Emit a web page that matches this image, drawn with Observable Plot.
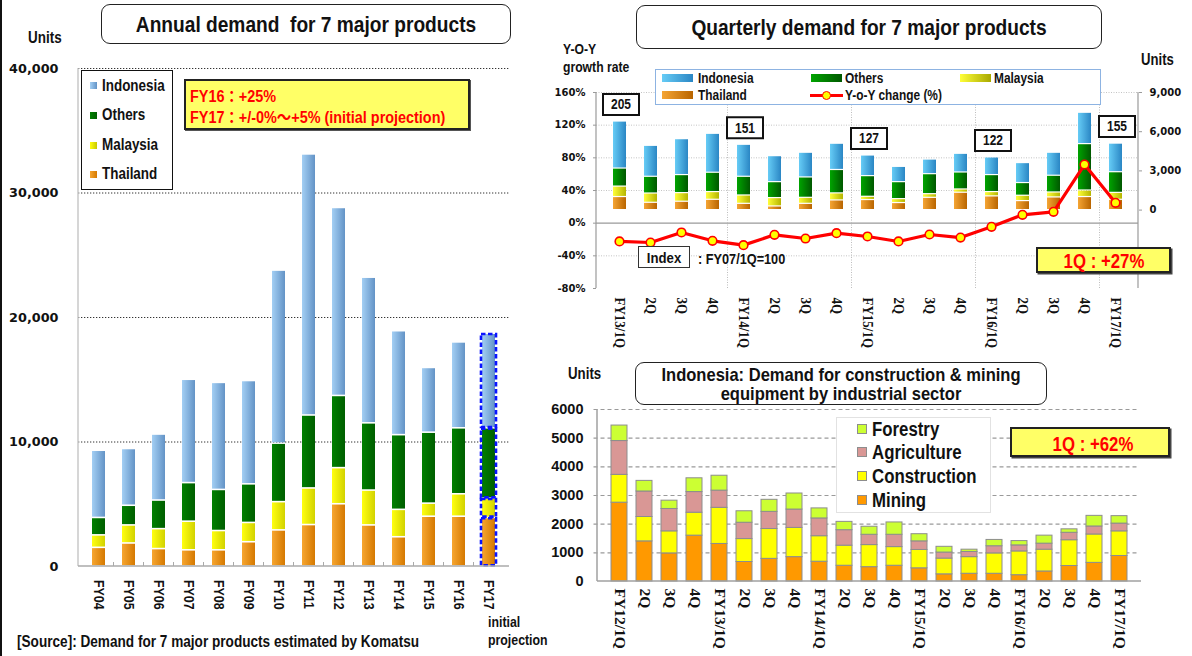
<!DOCTYPE html>
<html><head><meta charset="utf-8">
<script src="https://cdn.jsdelivr.net/npm/d3@7"></script>
<script src="https://cdn.jsdelivr.net/npm/@observablehq/plot@0.6"></script>
<style>
html,body{margin:0;padding:0;}
body{width:1192px;height:656px;position:relative;overflow:hidden;background:#fff;color:#111;
 font-family:"Liberation Sans Narrow","Arial Narrow","Liberation Sans",Arial,"Noto Sans CJK JP",sans-serif;font-weight:bold;}
.layer{position:absolute;}
.layer svg{display:block;max-width:none;overflow:visible;background:transparent;}
.t{position:absolute;white-space:pre;line-height:1;}
.box{position:absolute;box-sizing:border-box;background:#fff;}
.sw{position:absolute;box-sizing:border-box;}
</style></head><body>
<script>
// ---------------- DATA ----------------
// Annual demand (units)
const years = ["FY04","FY05","FY06","FY07","FY08","FY09","FY10","FY11","FY12","FY13","FY14","FY15","FY16","FY17"];
const annualThailand  = [1500,1850,1400,1300,1300,1950,2900,3330,5000,3300,2350,4000,4000,3900];
const annualMalaysia  = [1000,1450,1600,2300,1550,1550,2270,2940,2900,2800,2200,1050,1800,1550];
const annualOthers    = [1400,1580,2300,3100,3300,3100,4700,5860,5800,5400,6000,5700,5300,5650];
const annualIndonesia = [5400,4560,5300,8300,8600,8300,13900,20970,15100,11700,8350,5200,6900,7600];
const annualTicks = [0,10000,20000,30000,40000];
const projectionYear = "FY17";

// Quarterly demand (units) and Y-o-Y change (%)
const quarterKeys   = ["FY13/1Q","FY13/2Q","FY13/3Q","FY13/4Q","FY14/1Q","FY14/2Q","FY14/3Q","FY14/4Q","FY15/1Q","FY15/2Q","FY15/3Q","FY15/4Q","FY16/1Q","FY16/2Q","FY16/3Q","FY16/4Q","FY17/1Q"];
const quarterLabels = ["FY13/1Q","2Q","3Q","4Q","FY14/1Q","2Q","3Q","4Q","FY15/1Q","2Q","3Q","4Q","FY16/1Q","2Q","3Q","4Q","FY17/1Q"];
const qThailand  = [1000,560,640,790,480,280,480,740,770,540,940,1330,1050,690,970,1000,790];
const qMalaysia  = [800,710,660,590,640,640,460,540,250,300,280,250,330,410,380,500,530];
const qOthers    = [1380,1280,1380,1480,1430,1220,1560,1790,1580,1300,1530,1300,1300,970,1280,3550,1580];
const qIndonesia = [3600,2370,2750,2980,2450,1990,1890,2010,1580,1170,1120,1430,1350,1530,1760,2400,2190];
const qYoY       = [-22.4,-23.7,-11.4,-21.6,-26.9,-14.3,-18.8,-12.2,-16.3,-22.4,-13.9,-17.6,-4.5,10.2,13.9,71.8,24.9];
const indexQuarters = ["FY13/1Q","FY14/1Q","FY15/1Q","FY16/1Q","FY17/1Q"];
const indexValues   = [205,151,127,122,155];
const pctTicks  = [-80,-40,0,40,80,120,160];
const unitTicks = [0,3000,6000,9000];

// Indonesia by industrial sector (units)
const iqKeys   = ["FY12/1Q","FY12/2Q","FY12/3Q","FY12/4Q","FY13/1Q","FY13/2Q","FY13/3Q","FY13/4Q","FY14/1Q","FY14/2Q","FY14/3Q","FY14/4Q","FY15/1Q","FY15/2Q","FY15/3Q","FY15/4Q","FY16/1Q","FY16/2Q","FY16/3Q","FY16/4Q","FY17/1Q"];
const iqLabels = ["FY12/1Q","2Q","3Q","4Q","FY13/1Q","2Q","3Q","4Q","FY14/1Q","2Q","3Q","4Q","FY15/1Q","2Q","3Q","4Q","FY16/1Q","2Q","3Q","4Q","FY17/1Q"];
const mining       = [2750,1400,980,1600,1310,680,790,850,690,550,500,550,460,250,270,270,220,350,540,650,890];
const construction = [970,850,770,800,1260,800,1040,1020,890,700,770,650,640,550,580,710,830,760,900,990,860];
const agriculture  = [1180,890,780,720,600,570,600,640,620,540,360,430,300,210,180,250,210,210,260,280,270];
const forestry     = [540,370,290,480,520,400,420,560,350,290,280,430,250,200,80,220,150,280,120,370,260];
const sectorTicks = [0,1000,2000,3000,4000,5000,6000];

// ---------------- HELPERS ----------------
const SANS = '"Liberation Sans",Arial,sans-serif';
const SERIF = '"Liberation Serif","Times New Roman",serif';
const VERD = '"DejaVu Sans",Verdana,sans-serif';
const SVGNS = "http://www.w3.org/2000/svg";
const comma = d3.format(",");

function place(html){ document.body.insertAdjacentHTML("beforeend", html); }
// text: x = left edge (or centre if c), yc = vertical centre, sx = horizontal condensing
function txt(x, yc, s, size, sx=1, c=false, extra=""){
  const tr = c ? `translate(-50%,-50%) scaleX(${sx})` : `translateY(-50%) scaleX(${sx})`;
  const org = c ? "50% 50%" : "0 50%";
  place(`<div class="t" style="left:${x}px;top:${yc}px;font-size:${size}px;transform:${tr};transform-origin:${org};${extra}">${s}</div>`);
}
function mount(svg, left, top){ const d=document.createElement("div"); d.className="layer"; d.style.left=left+"px"; d.style.top=top+"px"; d.appendChild(svg); document.body.appendChild(d); }
function addDefs(svg, html){ const tmp=document.createElementNS(SVGNS,"svg"); tmp.innerHTML="<defs>"+html+"</defs>"; svg.insertBefore(tmp.firstElementChild, svg.firstChild); }
function grad(id, a, b){ return `<linearGradient id="${id}" x1="0" x2="1" y1="0" y2="0"><stop offset="0" stop-color="${a}"/><stop offset="1" stop-color="${b}"/></linearGradient>`; }
function line(g, x1,y1,x2,y2, stroke, w=1, dash=null){ const l=document.createElementNS(SVGNS,"line"); l.setAttribute("x1",x1);l.setAttribute("y1",y1);l.setAttribute("x2",x2);l.setAttribute("y2",y2);l.setAttribute("stroke",stroke);l.setAttribute("stroke-width",w); if(dash) l.setAttribute("stroke-dasharray",dash); g.appendChild(l); }
function bandBoundary(x, key){ const bw = x.bandwidth ? x.bandwidth() : 0; const step = x.step ? x.step() : bw; return x(key) - (step - bw)/2; }
// condense rotated x tick labels along their reading direction
function condenseX(svg, s){ svg.querySelectorAll('g[aria-label="x-axis tick label"] text').forEach(t=>{ const tr=t.getAttribute("transform")||""; t.setAttribute("transform", tr+` scale(${s},1)`); }); }

// ---------------- LEFT: annual ----------------
const seriesOrder = ["Thailand","Malaysia","Others","Indonesia"];
const annualSeries = {Thailand: annualThailand, Malaysia: annualMalaysia, Others: annualOthers, Indonesia: annualIndonesia};
const annual = [];
years.forEach((y,i)=>seriesOrder.forEach(s=>annual.push({year:y, series:s, value:annualSeries[s][i]})));

const leftFrame = (index, scales, values, dims) => {
  const g = document.createElementNS(SVGNS,"g");
  const x = scales.x, y = scales.y;
  const x0 = dims.marginLeft, x1 = dims.width - dims.marginRight, y0 = y(0);
  line(g, x0, dims.marginTop, x0, y0, "#c8c8c8", 1.5);
  line(g, x0, y0, x1, y0, "#aaaaaa", 1.5);
  years.slice(1).forEach(k => { const bx = bandBoundary(x, k); line(g, bx, y0, bx, y0-4, "#aaaaaa", 1); });
  return g;
};

const leftPlot = Plot.plot({
  width: 540, height: 620, marginLeft: 78, marginRight: 31, marginTop: 68, marginBottom: 54,
  style: {fontFamily: SANS, fontWeight: "bold", color: "#111", background: "transparent", overflow: "visible"},
  x: {domain: years, paddingInner: 0.55, paddingOuter: 0.275, label: null},
  y: {domain: [0, 40000], label: null},
  color: {domain: seriesOrder, range: ["url(#gL0)","url(#gL1)","url(#gL2)","url(#gL3)"]},
  marks: [
    Plot.ruleY(annualTicks.filter(v => v > 0), {stroke: "#333", strokeWidth: 1, strokeDasharray: "1.3,1.7"}),
    Plot.barY(annual, Plot.stackY({x: "year", y: "value", fill: "series", order: seriesOrder, insetTop: 0.8, insetBottom: 0.8})),
    Plot.barY(annual.filter(d => d.year === projectionYear), Plot.stackY({x: "year", y: "value", z: "series", order: seriesOrder, fill: "none", stroke: "#0a14ff", strokeWidth: 2.6, strokeDasharray: "4.5,2.5", inset: -1, insetTop: 0.8, insetBottom: 0.8})),
    leftFrame,
    Plot.axisY({ticks: annualTicks, tickFormat: comma, tickSize: 0, tickPadding: 20, fontSize: 12.8, fontFamily: VERD, fontWeight: "bold", label: null}),
    Plot.axisX({tickRotate: 90, tickSize: 0, tickPadding: 13.5, fontSize: 15.5, label: null})
  ]
});
addDefs(leftPlot,
  grad("gL0","#f7a630","#d57900") + grad("gL1","#ffff10","#d2d200") +
  grad("gL2","#008000","#005e00") + grad("gL3","#a3cff4","#6393c6"));
condenseX(leftPlot, 0.8);
mount(leftPlot, 0, 0);

// ---------------- TOP RIGHT: quarterly ----------------
const qSeries = {Thailand: qThailand, Malaysia: qMalaysia, Others: qOthers, Indonesia: qIndonesia};
const quarterly = [];
quarterKeys.forEach((k,i)=>seriesOrder.forEach(s=>quarterly.push({key:k, series:s, value:qSeries[s][i]})));
const yoyData = quarterKeys.map((k,i)=>({key:k, yoy:qYoY[i]}));
const labelOf = Object.fromEntries(quarterKeys.map((k,i)=>[k, quarterLabels[i]]));
const indexData = indexQuarters.map((k,j)=>{ const i = quarterKeys.indexOf(k); return {key:k, index:indexValues[j], total: qThailand[i]+qMalaysia[i]+qOthers[i]+qIndonesia[i]}; });

const TR = {width: 642, height: 360, marginLeft: 46, marginRight: 54, marginTop: 92, marginBottom: 72};
const trX = {domain: quarterKeys, paddingInner: 0.59, paddingOuter: 0.295, label: null};
const trStyle = {fontFamily: SANS, fontWeight: "bold", color: "#111", background: "transparent", overflow: "visible"};

const trFrame = (index, scales, values, dims) => {
  const g = document.createElementNS(SVGNS,"g");
  const x = scales.x, y = scales.y;
  const x0 = dims.marginLeft, x1 = dims.width - dims.marginRight;
  const yt = y(160), yb = y(-80);
  quarterKeys.forEach((k,i)=>{ if (i>0 && quarterLabels[i].startsWith("FY")) { const bx = bandBoundary(x, k); line(g, bx, yt, bx, yb, "#bdbdbd", 1, "1,1.5"); } });
  line(g, x0, yt, x0, yb, "#9a9a9a", 1.2);
  line(g, x1, yt, x1, yb, "#9a9a9a", 1.2);
  return g;
};

const trGrid = Plot.plot({
  ...TR, style: trStyle, x: trX, y: {domain: [-80,160], label: null},
  marks: [
    Plot.ruleY(pctTicks.filter(v => v !== 0 && v !== -80), {stroke: "#c4c4c4", strokeWidth: 1, strokeDasharray: "1,1.5"}),
    Plot.ruleY([0], {stroke: "#9a9a9a", strokeWidth: 1.3}),
    trFrame,
    Plot.axisY({ticks: pctTicks, tickFormat: d => d + "%", tickSize: 3, tickPadding: 8, fontSize: 10, fontFamily: VERD, fontWeight: "bold", stroke: "#9a9a9a", label: null}),
    Plot.axisX({tickRotate: 90, tickSize: 0, tickPadding: 9, fontSize: 14, fontFamily: SERIF, fontWeight: "bold", tickFormat: k => labelOf[k], label: null})
  ]
});
condenseX(trGrid, 0.93);
mount(trGrid, 550, 0);

const boxSymbol = {draw(ctx){ ctx.moveTo(-18,-10.5); ctx.lineTo(18,-10.5); ctx.lineTo(18,10.5); ctx.lineTo(-18,10.5); ctx.closePath(); }};
const trBars = Plot.plot({
  ...TR, style: trStyle, x: {...trX, axis: null}, y: {domain: [-6000,9000], label: null},
  color: {domain: seriesOrder, range: ["url(#gR0)","url(#gR1)","url(#gR2)","url(#gR3)"]},
  marks: [
    Plot.barY(quarterly, Plot.stackY({x: "key", y: "value", fill: "series", order: seriesOrder, insetTop: 0.6, insetBottom: 0.6})),
    Plot.axisY({anchor: "right", ticks: unitTicks, tickFormat: comma, tickSize: 3, tickPadding: 8, fontSize: 10, fontFamily: VERD, fontWeight: "bold", stroke: "#9a9a9a", label: null}),
    Plot.dot(indexData, {x: "key", y: "total", dx: 1, dy: -17, symbol: boxSymbol, fill: "#fff", stroke: "#111", strokeWidth: 2}),
    Plot.text(indexData, {x: "key", y: "total", dx: 1, dy: -17, text: d => String(d.index), fontSize: 15, fontWeight: "bold", fill: "#111"})
  ]
});
addDefs(trBars,
  grad("gR0","#f5a534","#b96500") + grad("gR1","#ffff38","#b5b500") +
  grad("gR2","#00a400","#005800") + grad("gR3","#66ccf6","#2a86c4"));
trBars.querySelectorAll('g[aria-label="text"] text').forEach(t=>{ t.setAttribute("transform",(t.getAttribute("transform")||"")); t.setAttribute("textLength","20"); t.setAttribute("lengthAdjust","spacingAndGlyphs"); });
mount(trBars, 550, 0);

const trLine = Plot.plot({
  ...TR, style: trStyle, x: {...trX, axis: null}, y: {domain: [-80,160], axis: null},
  marks: [
    Plot.line(yoyData, {x: "key", y: "yoy", stroke: "#ff0000", strokeWidth: 3.2}),
    Plot.dot(yoyData, {x: "key", y: "yoy", r: 4.3, fill: "#ffff00", stroke: "#ff0000", strokeWidth: 1.6})
  ]
});
mount(trLine, 550, 0);

// ---------------- BOTTOM RIGHT: Indonesia by sector ----------------
const sectorOrder = ["Mining","Construction","Agriculture","Forestry"];
const sectorSeries = {Mining: mining, Construction: construction, Agriculture: agriculture, Forestry: forestry};
const sectorData = [];
iqKeys.forEach((k,i)=>sectorOrder.forEach(s=>sectorData.push({key:k, sector:s, value:sectorSeries[s][i]})));
const iqLabelOf = Object.fromEntries(iqKeys.map((k,i)=>[k, iqLabels[i]]));

const brFrame = (index, scales, values, dims) => {
  const g = document.createElementNS(SVGNS,"g");
  const y = scales.y;
  const x0 = dims.marginLeft, x1 = dims.width - dims.marginRight;
  line(g, x0, y(6000), x0, y(0), "#a0a0a0", 1.5);
  line(g, x0, y(0), x1, y(0), "#a0a0a0", 1.5);
  return g;
};
const brPlot = Plot.plot({
  width: 652, height: 276, marginLeft: 57, marginRight: 51, marginTop: 29, marginBottom: 75,
  style: {fontFamily: SANS, fontWeight: "bold", color: "#111", background: "transparent", overflow: "visible"},
  x: {domain: iqKeys, paddingInner: 0.355, paddingOuter: 0.1775, label: null},
  y: {domain: [0, 6000], label: null},
  color: {domain: sectorOrder, range: ["#ff9900","#ffff00","#d99795","#ccff33"]},
  marks: [
    Plot.ruleY(sectorTicks.filter(v => v > 0), {stroke: "#9a9a9a", strokeWidth: 1.1, strokeDasharray: "4,3", dx: -3.5}),
    Plot.barY(sectorData, Plot.stackY({x: "key", y: "value", fill: "sector", order: sectorOrder, stroke: "#8d8d8d", strokeWidth: 1})),
    brFrame,
    Plot.axisY({ticks: sectorTicks, tickFormat: d => String(d), tickSize: 0, tickPadding: 14, fontSize: 14.5, fontFamily: SANS, fontWeight: "bold", label: null}),
    Plot.axisX({tickRotate: 90, tickSize: 0, tickPadding: 7, fontSize: 15.5, fontFamily: SERIF, fontWeight: "bold", tickFormat: k => iqLabelOf[k], label: null})
  ]
});
mount(brPlot, 540, 380);

// ---------------- HTML annotations ----------------
place(`<div class="box" style="left:0;top:0;width:2px;height:656px;background:#111"></div>`);

// Left panel
place(`<div class="box" style="left:101px;top:4px;width:410px;height:40px;border:1.5px solid #222;border-radius:9px;"></div>`);
txt(306, 24.5, "Annual demand  for 7 major products", 22, 0.87, true);
txt(27.5, 38, "Units", 16, 0.84);
place(`<div class="box" style="left:81px;top:70px;width:91.5px;height:119.5px;border:1.5px solid #111;"></div>`);
[["Indonesia","linear-gradient(90deg,#a3cff4,#6393c6)",85.7],["Others","linear-gradient(90deg,#008000,#005e00)",115],["Malaysia","linear-gradient(90deg,#ffff10,#c8c800)",145],["Thailand","linear-gradient(90deg,#f7a630,#d57900)",174.3]]
  .forEach(([name,bg,yc])=>{ place(`<div class="sw" style="left:90px;top:${yc-3.5}px;width:7px;height:7px;background:${bg}"></div>`); txt(101.7, yc, name, 16, 0.84); });
place(`<div class="box" style="left:184px;top:79px;width:286px;height:51px;background:#ffff66;border:2px solid #222;box-shadow:1px 1px 0 #555;"></div>`);
txt(189.5, 96.5, "FY16：+25%", 16, 0.9, false, "color:#ff0000");
txt(189.5, 117.5, "FY17：+/-0%～+5% (initial projection)", 16, 0.9, false, "color:#ff0000");
txt(488, 622, "initial", 14.5, 0.85);
txt(488, 640, "projection", 14.5, 0.85);
txt(16.5, 641.5, "[Source]: Demand for 7 major products estimated by Komatsu", 16, 0.85);

// Top right panel
place(`<div class="box" style="left:636px;top:5px;width:466px;height:44px;border:1.5px solid #222;border-radius:9px;"></div>`);
txt(869, 27.5, "Quarterly demand for 7 major products", 22, 0.87, true);
txt(563, 49, "Y-O-Y", 14, 0.87);
txt(563, 67, "growth rate", 14, 0.87);
txt(1141, 60, "Units", 16, 0.82);
place(`<div class="box" style="left:655px;top:69px;width:446px;height:35.5px;border:1.5px solid #8db3e2;"></div>`);
[["Indonesia","linear-gradient(90deg,#66ccf6,#2a86c4)",662,697.5,77.7],["Others","linear-gradient(90deg,#00a400,#005800)",810.5,845,77.7],["Malaysia","linear-gradient(90deg,#ffff38,#a8a800)",960,994,77.7],["Thailand","linear-gradient(90deg,#f5a534,#b96500)",662,697.5,95]]
  .forEach(([name,bg,sx,tx,yc])=>{ place(`<div class="sw" style="left:${sx}px;top:${yc-4}px;width:31px;height:8px;background:${bg}"></div>`); txt(tx, yc, name, 14.5, 0.82); });
place(`<div class="sw" style="left:810px;top:93.5px;width:33px;height:3px;background:#ff0000"></div>`);
place(`<div class="sw" style="left:821.5px;top:90.5px;width:9px;height:9px;border-radius:50%;background:#ffff00;border:1.5px solid #ff0000"></div>`);
txt(845, 95, "Y-o-Y change (%)", 14.5, 0.82);
place(`<div class="box" style="left:638px;top:246px;width:52px;height:22px;border:1.5px solid #333;"></div>`);
txt(664, 257.5, "Index", 15.5, 0.85, true);
txt(698, 259, ": FY07/1Q=100", 15.5, 0.82);
place(`<div class="box" style="left:1036px;top:247px;width:135px;height:25.5px;background:#ffff66;border:2px solid #222;box-shadow:1.5px 1.5px 0 #444;"></div>`);
txt(1103.5, 260, "1Q : +27%", 21, 0.8, true, "color:#ff0000");

// Bottom right panel
txt(568, 374, "Units", 16, 0.83);
place(`<div class="box" style="left:635px;top:362px;width:412px;height:43px;border:1.5px solid #222;border-radius:9px;"></div>`);
txt(841, 373.5, "Indonesia: Demand for construction &amp; mining", 19, 0.87, true);
txt(841, 393, "equipment by industrial sector", 19, 0.87, true);
place(`<div class="box" style="left:836px;top:417px;width:155px;height:95.5px;border:1px solid #e2e2e2;"></div>`);
[["Forestry","#ccff33",429],["Agriculture","#d99795",452.3],["Construction","#ffff00",476],["Mining","#ff9900",500]]
  .forEach(([name,c,yc])=>{ place(`<div class="sw" style="left:856.5px;top:${yc-5}px;width:10px;height:10px;background:${c};border:1px solid #8d8d8d"></div>`); txt(871.5, yc, name, 20, 0.84); });
place(`<div class="box" style="left:1010px;top:427px;width:160px;height:30px;background:#ffff66;border:2px solid #222;box-shadow:1.5px 1.5px 0 #444;"></div>`);
txt(1093, 443, "1Q : +62%", 21, 0.8, true, "color:#ff0000");
</script>
</body></html>
